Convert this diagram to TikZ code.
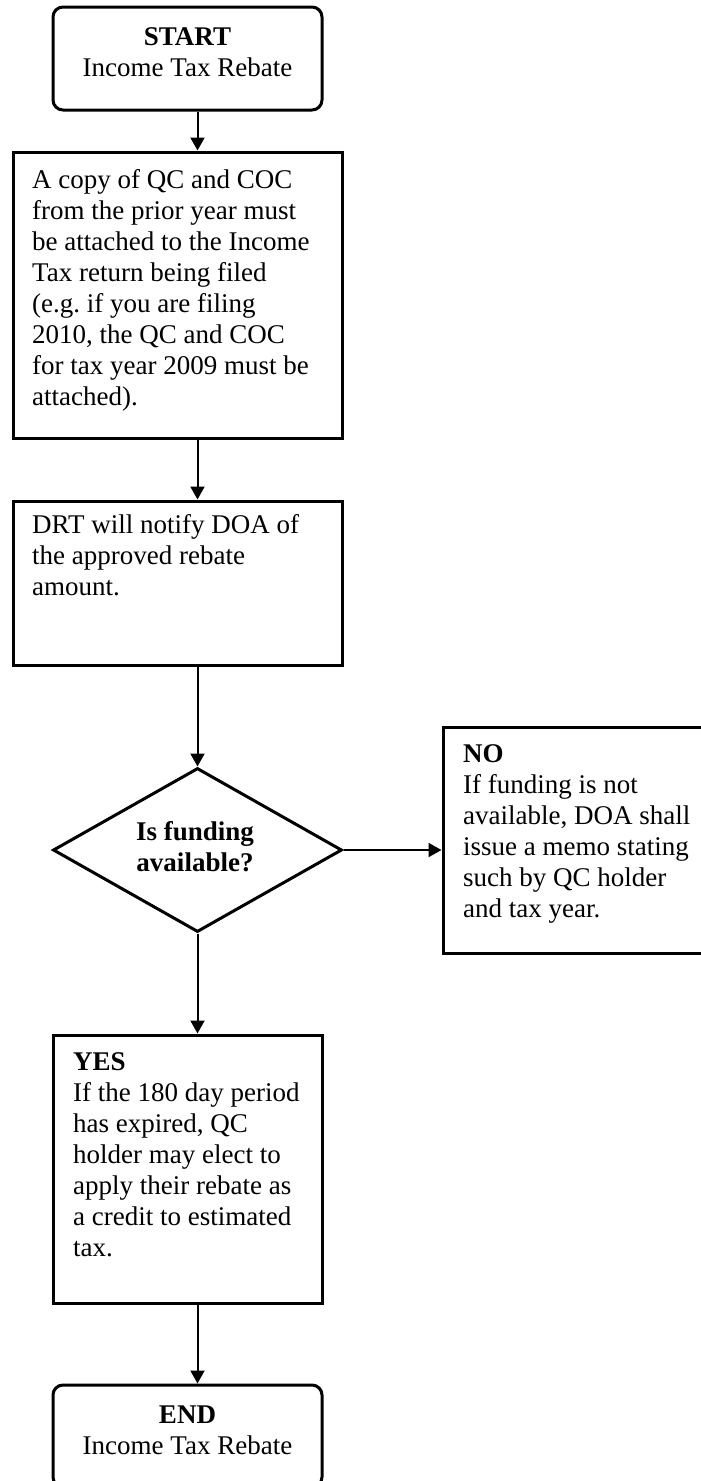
\documentclass[tikz,border=0pt]{standalone}
\usepackage{fontspec}
\setmainfont{Liberation Serif}
\usetikzlibrary{shapes.geometric,arrows.meta}
\newcommand{\txtlines}[2][l]{\begin{tabular}[t]{@{}#1@{}}#2\end{tabular}}
\begin{document}
\begin{tikzpicture}[x=1pt,y=-1pt,
  box/.style={draw,line width=3pt,inner sep=0pt,rectangle},
  term/.style={box,rounded corners=10pt},
  txt/.style={inner sep=0pt,anchor=base west,font=\fontsize{27}{31}\selectfont\frenchspacing},
  ctxt/.style={inner sep=0pt,anchor=base,font=\fontsize{27}{31}\selectfont\frenchspacing},
  conn/.style={line width=2pt,-{Triangle[width=14pt,length=13pt]}}]
\useasboundingbox (0,0) rectangle (701,1481);
\clip (0,0) rectangle (701,1481);
% shapes
\node[term,minimum width=269pt,minimum height=103pt] (start) at (187.5,58.5) {};
\node[box,minimum width=329pt,minimum height=286pt] (b2) at (177.5,295) {};
\node[box,minimum width=329pt,minimum height=164pt] (b3) at (177.5,583) {};
\node[draw,diamond,line width=3pt,inner sep=0pt,minimum width=289pt,minimum height=164pt] (dia) at (197.5,850) {};
\node[box,minimum width=265pt,minimum height=226pt] (no) at (575.5,840) {};
\node[box,minimum width=269pt,minimum height=268pt] (yes) at (187.5,1169) {};
\node[term,minimum width=269pt,minimum height=102pt] (end) at (187.5,1436) {};
% texts
\node[ctxt] (startT) at (187.5,45) {\txtlines[c]{\textbf{START}\\Income Tax Rebate}};
\node[txt] (b2T) at (32,188) {\txtlines{A copy of QC and COC\\from the prior year must\\be attached to the Income\\Tax return being filed\\(e.g.\ if you are filing\\2010, the QC and COC\\for tax year 2009 must be\\attached).}};
\node[txt] (b3T) at (32,533) {\txtlines{DRT will notify DOA of\\the approved rebate\\amount.}};
\node[ctxt] (diaT) at (195,840) {\txtlines[c]{\textbf{Is funding}\\\textbf{available?}}};
\node[txt] (noT) at (463,762) {\txtlines{\textbf{NO}\\If funding is not\\available, DOA shall\\issue a memo stating\\such by QC holder\\and tax year.}};
\node[txt] (yesT) at (73,1070) {\txtlines{\textbf{YES}\\If the 180 day period\\has expired, QC\\holder may elect to\\apply their rebate as\\a credit to estimated\\tax.}};
\node[ctxt] (endT) at (187.5,1423) {\txtlines[c]{\textbf{END}\\Income Tax Rebate}};
% connectors
\draw[conn] (start.south -| dia.north) -- (b2.north -| dia.north);
\draw[conn] (b2.south -| dia.north) -- (b3.north -| dia.north);
\draw[conn] (b3.south -| dia.north) -- (dia.north);
\draw[conn] (dia.east) -- (dia.east -| no.west);
\draw[conn] (dia.south) -- (yes.north -| dia.south);
\draw[conn] (yes.south -| dia.south) -- (end.north -| dia.south);
\end{tikzpicture}
\end{document}
